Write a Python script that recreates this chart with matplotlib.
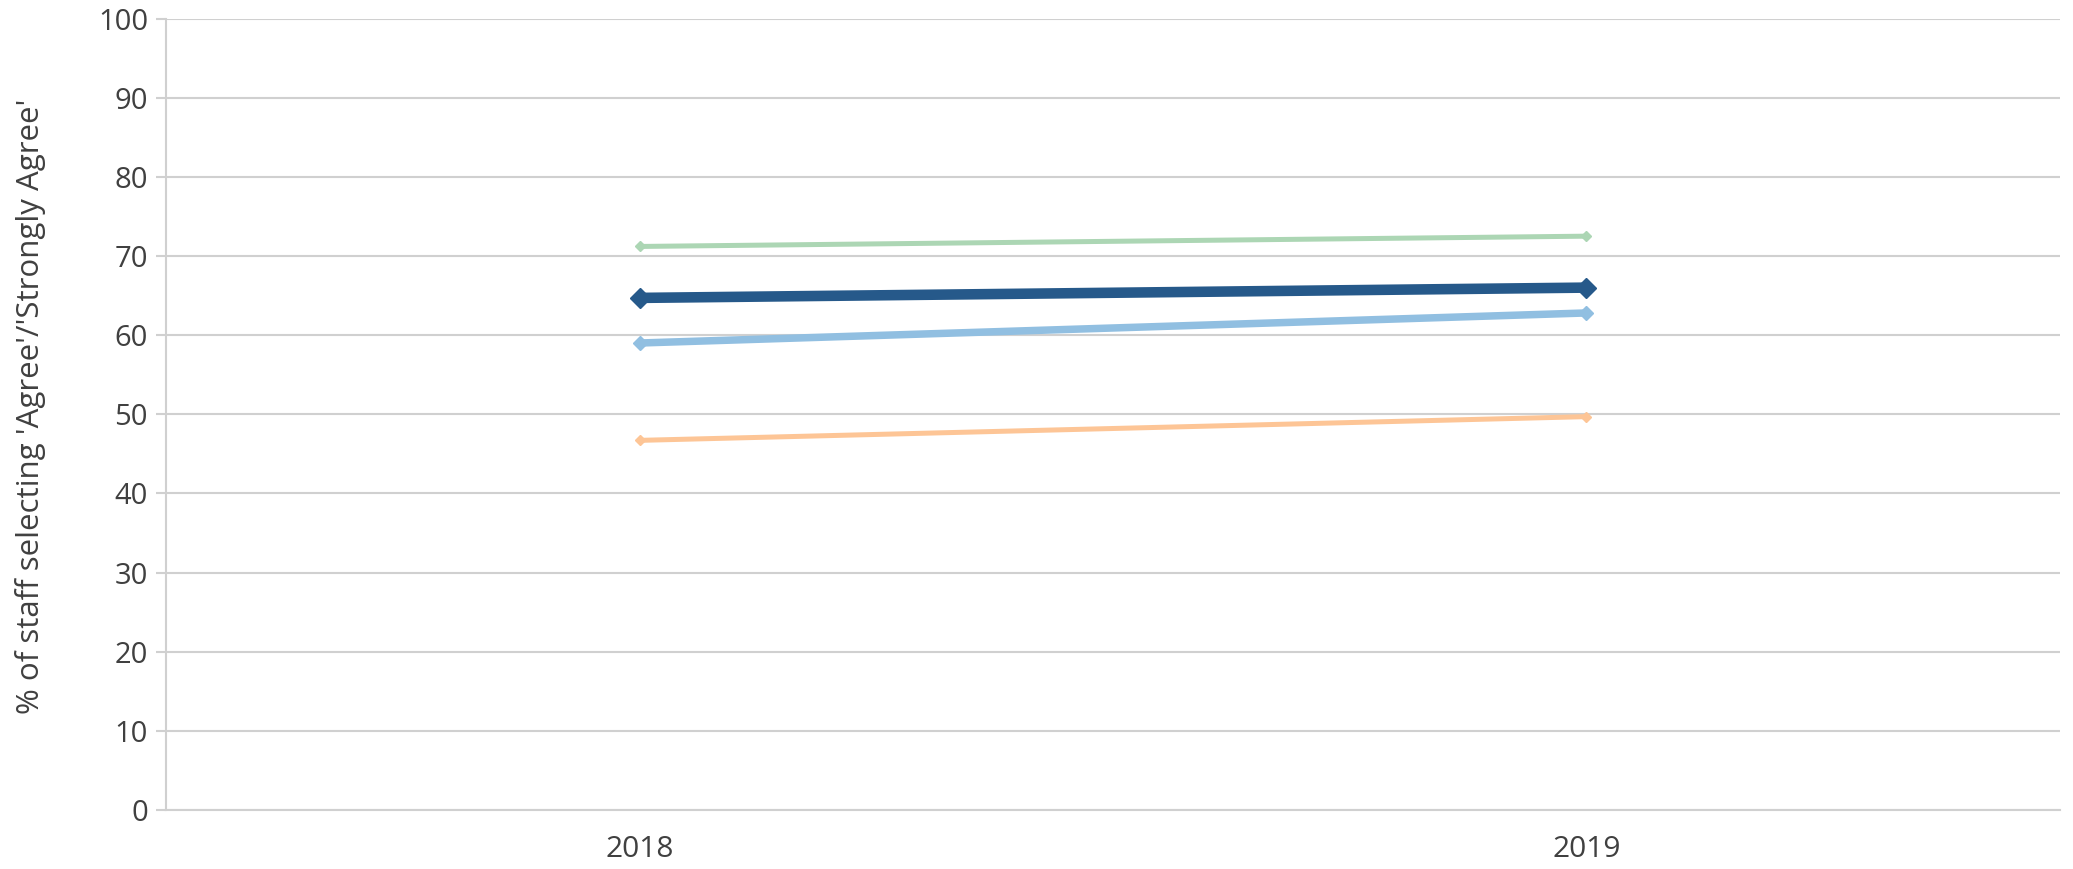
import matplotlib
matplotlib.use("Agg")
import matplotlib.pyplot as plt

years = ["2018", "2019"]
series_names = ["Green", "Dark blue", "Light blue", "Orange"]
green = [71.2, 72.5]
dark_blue = [64.7, 66.0]
light_blue = [59.0, 62.8]
orange = [46.7, 49.7]
yticks = [0, 10, 20, 30, 40, 50, 60, 70, 80, 90, 100]

plt.rcParams["font.family"] = ["Open Sans", "DejaVu Sans"]

fig = plt.figure(figsize=(20.73, 8.69), dpi=100)
ax = fig.add_axes([0.0801, 0.0679, 0.9136, 0.9108])

x = list(range(len(years)))
styles = [
    (green, "#acd6b4", 3.6, 5.5),
    (orange, "#fdc596", 3.6, 5.5),
    (light_blue, "#91bfe1", 5.4, 7.0),
    (dark_blue, "#26598a", 7.6, 10.0),
]
for vals, col, lw, ms in styles:
    ax.plot(x, vals, color=col, lw=lw, marker="D", ms=ms, mec=col, mfc=col,
            solid_capstyle="butt", zorder=3)

ax.set_xlim(-0.5, 1.5)
ax.set_ylim(0, 100)
ax.set_yticks(yticks)
ax.set_xticks(x)
ax.set_xticklabels(years, fontsize=21.5, color="#404040")
ax.set_yticklabels([str(t) for t in yticks], fontsize=21, color="#404040")
ax.grid(axis="y", color="#d0d0d0", lw=1.5, zorder=0)
for s in ["top", "right"]:
    ax.spines[s].set_visible(False)
for s in ["left", "bottom"]:
    ax.spines[s].set_color("#d0d0d0")
    ax.spines[s].set_linewidth(1.5)
ax.tick_params(axis="y", length=7, width=1.5, color="#d0d0d0", pad=6)
ax.tick_params(axis="x", length=0, pad=18)
ax.set_ylabel("% of staff selecting 'Agree'/'Strongly Agree'",
              fontsize=22.5, color="#404040")
ax.yaxis.set_label_coords(-0.0635, 0.51)

fig.savefig("out.png", dpi=100)
